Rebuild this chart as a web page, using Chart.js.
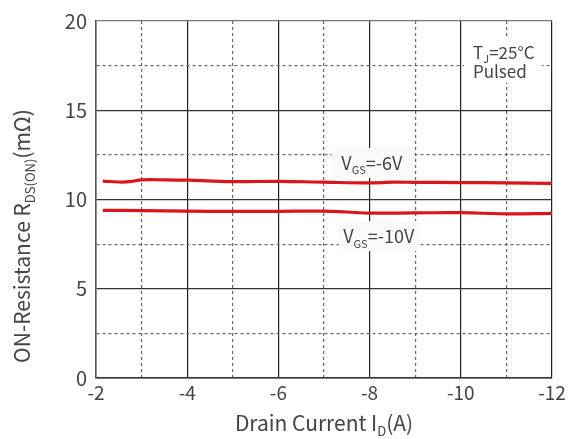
<!DOCTYPE html>
<html>
<head>
<meta charset="utf-8">
<script src="https://cdn.jsdelivr.net/npm/chart.js@4.4.1/dist/chart.umd.min.js"></script>
<style>
  body { margin: 0; background: #fff; }
  #wrap { width: 572px; height: 439px; position: relative; }
</style>
</head>
<body>
<div id="wrap"><canvas id="chart"></canvas></div>
<script>
// --- data ---
const xTickLabels = [-2, -4, -6, -8, -10, -12];
const yTickLabels = [0, 5, 10, 15, 20];

const vgs6Current = [-2.15, -2.5, -2.75, -3, -3.5, -4, -5, -6, -7, -8, -8.5, -9, -10, -11, -12];
const vgs6Res     = [11.03, 10.98, 11.0, 11.1, 11.1, 11.08, 11.0, 11.02, 10.97, 10.93, 10.97, 10.96, 10.95, 10.93, 10.9];

const vgs10Current = [-2.15, -3, -4, -5, -6, -7, -7.5, -8, -9, -10, -11, -12];
const vgs10Res     = [9.39, 9.38, 9.35, 9.33, 9.34, 9.35, 9.3, 9.24, 9.25, 9.26, 9.2, 9.22];

const FONT = '"Noto Sans CJK SC", "Noto Sans", sans-serif';
const TEXT = '#444';
const RED = '#d9161c';

function toPoints(xs, ys) {
  return xs.map((x, i) => ({ x: x, y: ys[i] }));
}

// draw text with subscripts, parts = [[text, isSub], ...], centred on x
function drawRich(ctx, parts, x, y, size) {
  const subSize = Math.round(size * 0.62);
  let total = 0;
  parts.forEach(p => {
    ctx.font = `${p[1] ? subSize : size}px ${FONT}`;
    total += ctx.measureText(p[0]).width;
  });
  let cx = x - total / 2;
  ctx.textBaseline = 'alphabetic';
  ctx.textAlign = 'left';
  parts.forEach(p => {
    ctx.font = `${p[1] ? subSize : size}px ${FONT}`;
    ctx.fillText(p[0], cx, p[1] ? y + size * 0.25 : y);
    cx += ctx.measureText(p[0]).width;
  });
  return total;
}

const labelPlugin = {
  id: 'labels',
  beforeDatasetsDraw(chart) {
    const { ctx, scales: { x, y } } = chart;
    ctx.save();
    ctx.fillStyle = TEXT;

    // curve labels with light boxes over the grid
    const notes = [
      { parts: [['V', 0], ['GS', 1], ['=-6V', 0]], xv: -8.05, yv: 12.05 },
      { parts: [['V', 0], ['GS', 1], ['=-10V', 0]], xv: -8.2, yv: 7.95 }
    ];
    notes.forEach(n => {
      const px = x.getPixelForValue(n.xv);
      const py = y.getPixelForValue(n.yv);
      ctx.font = `18px ${FONT}`;
      ctx.fillStyle = '#fafafa';
      ctx.fillRect(px - 40, py - 15, 82, 30);
      ctx.fillStyle = TEXT;
      drawRich(ctx, n.parts, px, py + 7, 18);
    });

    // Tj / Pulsed box
    const bx = x.getPixelForValue(-10.9);
    const by = y.getPixelForValue(17.2);
    ctx.fillStyle = '#fff';
    ctx.fillRect(bx - 38, by - 34, 78, 46);
    ctx.fillStyle = TEXT;
    drawRich(ctx, [['T', 0], ['J', 1], ['=25°C', 0]], bx + 2, by - 12, 17);
    drawRich(ctx, [['Pulsed', 0]], bx - 2, by + 7, 17);
    ctx.restore();
  },
  afterDraw(chart) {
    const { ctx, chartArea } = chart;
    ctx.save();
    ctx.fillStyle = TEXT;
    // x axis title
    drawRich(ctx, [['Drain Current I', 0], ['D', 1], ['(A)', 0]], (chartArea.left + chartArea.right) / 2, 431, 21);
    // y axis title
    ctx.translate(30, 236);
    ctx.rotate(-Math.PI / 2);
    drawRich(ctx, [['ON-Resistance R', 0], ['DS(ON)', 1], ['(mΩ)', 0]], 0, 0, 21);
    ctx.restore();
  }
};

function isMajorX(v) { return Math.abs(v) % 2 === 0; }
function isMajorY(v) { return v % 5 === 0; }

new Chart(document.getElementById('chart'), {
  type: 'line',
  data: {
    datasets: [
      { label: 'VGS=-6V', data: toPoints(vgs6Current, vgs6Res), borderColor: RED, borderWidth: 3.2,
        pointRadius: 0, tension: 0.4 },
      { label: 'VGS=-10V', data: toPoints(vgs10Current, vgs10Res), borderColor: RED, borderWidth: 3.2,
        pointRadius: 0, tension: 0.4 }
    ]
  },
  options: {
    responsive: true,
    maintainAspectRatio: false,
    animation: false,
    layout: { padding: { top: 19, right: 20, left: 0, bottom: 0 } },
    plugins: { legend: { display: false }, tooltip: { enabled: false } },
    scales: {
      x: {
        type: 'linear',
        reverse: true,
        min: -12,
        max: -2,
        afterFit: s => { s.height = 61; },
        ticks: {
          stepSize: 1,
          autoSkip: false,
          maxRotation: 0,
          padding: 3,
          color: TEXT,
          font: { family: FONT, size: 19 },
          callback: v => xTickLabels.includes(v) ? String(v) : ''
        },
        grid: {
          drawTicks: false,
          color: c => (c.tick && isMajorX(c.tick.value)) ? '#222' : '#666',
          lineWidth: 1.2
        },
        border: {
          display: true,
          color: '#333',
          width: 1.5,
          dash: c => (c.tick && !isMajorX(c.tick.value)) ? [3, 3] : []
        }
      },
      y: {
        min: 0,
        max: 20,
        afterFit: s => { s.width = 96; },
        ticks: {
          stepSize: 2.5,
          autoSkip: false,
          padding: 9,
          color: TEXT,
          font: { family: FONT, size: 20 },
          callback: v => yTickLabels.includes(v) ? String(v) : ''
        },
        grid: {
          drawTicks: false,
          color: c => (c.tick && isMajorY(c.tick.value)) ? (c.tick.value === 20 ? '#777' : '#333') : '#666',
          lineWidth: 1.2
        },
        border: {
          display: true,
          color: '#555',
          width: 1.5,
          dash: c => (c.tick && !isMajorY(c.tick.value)) ? [3, 3] : []
        }
      }
    }
  },
  plugins: [labelPlugin]
});
</script>
</body>
</html>
